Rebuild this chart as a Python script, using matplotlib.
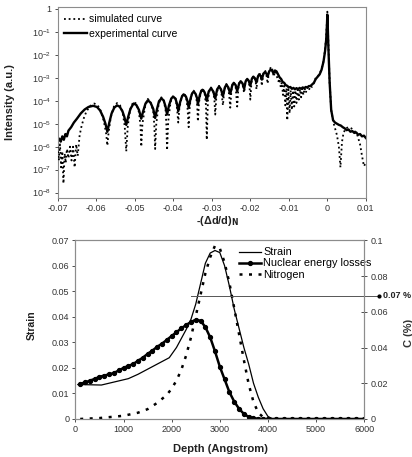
import numpy as np
import matplotlib
matplotlib.use("Agg")
import matplotlib.pyplot as plt

plt.rcParams['font.family'] = ['Liberation Sans', 'DejaVu Sans']

# ---- top panel: rocking curve, x = -(dd/d)_N, y = log10(intensity)
exp_x = [-0.0700, -0.0696, -0.0692, -0.0688, -0.0684, -0.0680, -0.0676, -0.0672, -0.0665, -0.0658,
         -0.0650, -0.0640, -0.0630, -0.0620, -0.0608, -0.0598, -0.0590, -0.0582, -0.0576, -0.0571,
         -0.0566, -0.0560, -0.0553, -0.0546, -0.0539, -0.0532, -0.0527, -0.0522, -0.0517, -0.0511,
         -0.0503, -0.0496, -0.0489, -0.0483, -0.0478, -0.0472, -0.0466, -0.0459, -0.0452, -0.0447,
         -0.0442, -0.0437, -0.0431, -0.0425, -0.0420, -0.0416, -0.0411, -0.0405, -0.0400, -0.0394,
         -0.0390, -0.0387, -0.0382, -0.0377, -0.0373, -0.0367, -0.0363, -0.0360, -0.0355, -0.0351,
         -0.0347, -0.0342, -0.0338, -0.0336, -0.0331, -0.0327, -0.0324, -0.0319, -0.0315, -0.0313,
         -0.0308, -0.0302, -0.0296, -0.0291, -0.0286, -0.0281, -0.0276, -0.0271, -0.0266, -0.0262,
         -0.0257, -0.0252, -0.0247, -0.0243, -0.0238, -0.0234, -0.0229, -0.0225, -0.0220, -0.0216,
         -0.0212, -0.0208, -0.0204, -0.0200, -0.0196, -0.0192, -0.0188, -0.0184, -0.0180, -0.0177,
         -0.0173, -0.0170, -0.0166, -0.0162, -0.0158, -0.0155, -0.0151, -0.0147, -0.0143, -0.0140,
         -0.0136, -0.0132, -0.0128, -0.0124, -0.0120, -0.0116, -0.0112, -0.0108, -0.0104, -0.0100,
         -0.0096, -0.0092, -0.0088, -0.0084, -0.0080, -0.0076, -0.0072, -0.0068, -0.0064, -0.0060,
         -0.0056, -0.0052, -0.0048, -0.0044, -0.0040, -0.0035, -0.0030, -0.0025, -0.0020, -0.0015,
         -0.0010, -0.0006, -0.0003, -0.0001, 0.0000, 0.0001, 0.0003, 0.0006, 0.0010, 0.0015,
         0.0020, 0.0025, 0.0030, 0.0035, 0.0040, 0.0045, 0.0050, 0.0055, 0.0060, 0.0065,
         0.0070, 0.0075, 0.0080, 0.0085, 0.0090, 0.0095, 0.0100]
exp_log = [-5.80, -5.65, -5.78, -5.55, -5.70, -5.45, -5.55, -5.30, -5.15, -4.95,
           -4.78, -4.55, -4.38, -4.27, -4.22, -4.27, -4.42, -4.70, -5.00, -5.35,
           -4.95, -4.55, -4.30, -4.20, -4.26, -4.45, -4.70, -5.05, -4.70, -4.35,
           -4.12, -4.18, -4.40, -4.78, -4.45, -4.12, -3.98, -4.08, -4.35, -4.75,
           -4.35, -4.02, -3.90, -3.98, -4.25, -4.60, -4.20, -3.90, -3.82, -3.92,
           -4.15, -4.45, -4.05, -3.80, -3.72, -3.82, -4.02, -4.30, -3.90, -3.68,
           -3.60, -3.70, -3.90, -4.15, -3.75, -3.56, -3.52, -3.62, -3.80, -4.00,
           -3.60, -3.45, -3.60, -3.90, -3.50, -3.38, -3.50, -3.80, -3.42, -3.30,
           -3.42, -3.70, -3.34, -3.22, -3.32, -3.58, -3.25, -3.15, -3.25, -3.48,
           -3.15, -3.05, -3.13, -3.35, -3.05, -2.95, -3.02, -3.20, -2.94, -2.85,
           -2.92, -3.08, -2.82, -2.75, -2.82, -2.95, -2.72, -2.64, -2.70, -2.80,
           -2.68, -2.72, -2.85, -2.98, -3.05, -3.18, -3.22, -3.32, -3.35, -3.42,
           -3.40, -3.48, -3.44, -3.50, -3.45, -3.50, -3.44, -3.48, -3.42, -3.45,
           -3.40, -3.42, -3.36, -3.36, -3.30, -3.22, -3.05, -2.95, -2.85, -2.65,
           -2.30, -1.85, -1.35, -0.70, -0.25, -0.70, -1.80, -3.20, -4.40, -4.85,
           -4.95, -5.00, -5.05, -5.08, -5.15, -5.20, -5.28, -5.25, -5.35, -5.32,
           -5.40, -5.38, -5.48, -5.45, -5.55, -5.52, -5.62]

sim_x = [-0.0700, -0.0697, -0.0694, -0.0691, -0.0688, -0.0685, -0.0682, -0.0679, -0.0676, -0.0672,
         -0.0668, -0.0664, -0.0660, -0.0656, -0.0652, -0.0648, -0.0643, -0.0638, -0.0632, -0.0625,
         -0.0615, -0.0605, -0.0596, -0.0588, -0.0580, -0.0574, -0.0571, -0.0568, -0.0562, -0.0554,
         -0.0546, -0.0538, -0.0531, -0.0526, -0.0522, -0.0518, -0.0512, -0.0504, -0.0496, -0.0489,
         -0.0485, -0.0483, -0.0480, -0.0473, -0.0466, -0.0459, -0.0452, -0.0449, -0.0447, -0.0444,
         -0.0438, -0.0431, -0.0425, -0.0420, -0.0418, -0.0416, -0.0413, -0.0407, -0.0400, -0.0394,
         -0.0390, -0.0387, -0.0384, -0.0378, -0.0373, -0.0367, -0.0363, -0.0360, -0.0357, -0.0352,
         -0.0347, -0.0342, -0.0338, -0.0336, -0.0333, -0.0328, -0.0324, -0.0319, -0.0315, -0.0313,
         -0.0310, -0.0306, -0.0302, -0.0296, -0.0293, -0.0291, -0.0288, -0.0284, -0.0281, -0.0276,
         -0.0273, -0.0271, -0.0268, -0.0265, -0.0262, -0.0257, -0.0254, -0.0252, -0.0249, -0.0246,
         -0.0243, -0.0238, -0.0236, -0.0234, -0.0231, -0.0228, -0.0225, -0.0220, -0.0218, -0.0216,
         -0.0213, -0.0210, -0.0207, -0.0203, -0.0201, -0.0200, -0.0197, -0.0194, -0.0191, -0.0187,
         -0.0185, -0.0184, -0.0181, -0.0178, -0.0176, -0.0172, -0.0170, -0.0167, -0.0164, -0.0161,
         -0.0158, -0.0155, -0.0152, -0.0149, -0.0146, -0.0143, -0.0141, -0.0139, -0.0136, -0.0133,
         -0.0130, -0.0127, -0.0124, -0.0121, -0.0118, -0.0115, -0.0112, -0.0109, -0.0106, -0.0104,
         -0.0101, -0.0098, -0.0095, -0.0092, -0.0089, -0.0086, -0.0083, -0.0080, -0.0077, -0.0074,
         -0.0071, -0.0068, -0.0065, -0.0062, -0.0059, -0.0056, -0.0052, -0.0048, -0.0044, -0.0040,
         -0.0035, -0.0030, -0.0025, -0.0020, -0.0015, -0.0010, -0.0006, -0.0003, -0.0001, 0.0000,
         0.0001, 0.0003, 0.0006, 0.0010, 0.0015, 0.0020, 0.0025, 0.0030, 0.0034, 0.0038,
         0.0042, 0.0048, 0.0055, 0.0062, 0.0070, 0.0078, 0.0085, 0.0090, 0.0095, 0.0100]
sim_log = [-6.00, -6.60, -5.90, -6.90, -6.20, -7.60, -6.30, -6.70, -6.10, -6.50,
           -6.00, -6.60, -6.00, -6.90, -5.90, -6.40, -5.50, -5.10, -4.75, -4.45,
           -4.22, -4.12, -4.20, -4.45, -4.90, -5.45, -5.95, -5.40, -4.70, -4.25,
           -4.10, -4.20, -4.55, -5.10, -6.20, -5.10, -4.40, -4.05, -4.12, -4.50,
           -5.10, -6.00, -5.00, -4.25, -3.92, -4.05, -4.45, -5.10, -6.10, -5.00,
           -4.15, -3.85, -3.95, -4.40, -5.00, -6.15, -4.90, -4.05, -3.78, -3.90,
           -4.35, -4.95, -4.30, -3.85, -3.68, -3.80, -4.30, -5.15, -4.20, -3.72,
           -3.56, -3.68, -4.15, -4.90, -4.05, -3.60, -3.48, -3.60, -4.20, -5.70,
           -4.00, -3.55, -3.42, -3.60, -4.00, -4.60, -3.80, -3.45, -3.35, -3.55,
           -3.90, -4.20, -3.60, -3.35, -3.27, -3.45, -3.90, -4.30, -3.55, -3.25,
           -3.18, -3.40, -3.85, -4.25, -3.45, -3.18, -3.12, -3.30, -3.50, -3.65,
           -3.25, -3.08, -3.02, -3.25, -3.60, -3.95, -3.20, -2.98, -2.92, -3.10,
           -3.30, -3.50, -3.00, -2.85, -2.80, -3.00, -3.35, -2.90, -2.74, -2.70,
           -2.88, -3.25, -2.78, -2.62, -2.52, -2.62, -2.80, -2.95, -2.72, -2.78,
           -3.00, -3.15, -3.05, -3.40, -3.20, -3.75, -3.35, -4.20, -3.45, -4.85,
           -3.50, -4.55, -3.55, -4.40, -3.55, -4.25, -3.55, -4.10, -3.52, -3.95,
           -3.50, -3.85, -3.47, -3.75, -3.45, -3.65, -3.42, -3.55, -3.35, -3.40,
           -3.22, -3.00, -2.95, -2.82, -2.62, -2.28, -1.80, -1.20, -0.55, -0.12,
           -0.60, -1.70, -3.20, -4.40, -4.90, -5.20, -5.50, -6.00, -6.90, -5.80,
           -5.40, -5.20, -5.15, -5.20, -5.30, -5.50, -5.90, -6.40, -6.85, -6.70]

top_xticks = [-0.07, -0.06, -0.05, -0.04, -0.03, -0.02, -0.01, 0.0, 0.01]
top_xlabels = ['-0.07', '-0.06', '-0.05', '-0.04', '-0.03', '-0.02', '-0.01', '0', '0.01']
top_ydecades = [0, -1, -2, -3, -4, -5, -6, -7, -8]

# ---- bottom panel: depth profiles
strain_depth = [50, 540, 1100, 1300, 1600, 1950, 2100, 2200, 2300, 2400, 2500, 2600, 2700, 2800,
                2900, 3000, 3100, 3200, 3300, 3400, 3500, 3600, 3700, 3800, 3900, 4000, 4100, 6000]
strain = [0.0135, 0.0133, 0.0158, 0.0175, 0.0205, 0.0240, 0.0280, 0.0315, 0.0350, 0.0390, 0.0450,
          0.0530, 0.0610, 0.0650, 0.0660, 0.0652, 0.0600, 0.0520, 0.0430, 0.0355, 0.0280, 0.0215,
          0.0140, 0.0085, 0.0040, 0.0010, 0.0, 0.0]

nel_depth = list(range(100, 4000, 100)) + [4000, 4167, 4333, 4500, 4667, 4833, 5000,
                                           5167, 5333, 5500, 5667, 5833, 6000]
nel = [0.0138, 0.0143, 0.0150, 0.0157, 0.0165, 0.0170, 0.0175, 0.0180, 0.0190, 0.0200,
       0.0208, 0.0215, 0.0228, 0.0240, 0.0255, 0.0268, 0.0283, 0.0295, 0.0310, 0.0325,
       0.0340, 0.0355, 0.0368, 0.0380, 0.0388, 0.0385, 0.0360, 0.0320, 0.0265, 0.0205,
       0.0155, 0.0105, 0.0068, 0.0040, 0.0020, 0.0008, 0.0003, 0.0001, 0.0,
       0.0, 0.0, 0.0, 0.0, 0.0, 0.0, 0.0, 0.0, 0.0, 0.0, 0.0, 0.0, 0.0]

n_depth = [100, 500, 1000, 1300, 1500, 1700, 1900, 2000, 2100, 2200, 2300, 2400, 2500, 2600, 2700,
           2800, 2900, 3000, 3100, 3200, 3300, 3400, 3500, 3600, 3700, 3800, 3900, 4000, 4100]
nitrogen = [0.0, 0.0005, 0.0018, 0.0035, 0.0055, 0.0090, 0.0135, 0.0170, 0.0215, 0.0275, 0.0355,
            0.0455, 0.0575, 0.0695, 0.0815, 0.0905, 0.0970, 0.0955, 0.0875, 0.0760, 0.0620, 0.0475,
            0.0330, 0.0195, 0.0095, 0.0035, 0.0010, 0.0002, 0.0]
n_level = 0.069   # marked C level, labelled 0.07 %

gray = '#8c8c8c'
tcol = '#333333'

fig = plt.figure(figsize=(4.12, 4.57), dpi=100)

# ---------------- top
ax1 = fig.add_axes([0.140, 0.567, 0.748, 0.418])
ax1.set_yscale('log')
ax1.plot(exp_x, 10 ** np.array(exp_log), color='black', lw=1.7, label='experimental curve', zorder=2)
ax1.plot(sim_x, 10 ** np.array(sim_log), color='black', lw=1.3, ls=(0, (1, 1.6)),
         label='simulated curve', zorder=3)
ax1.set_xlim(-0.07, 0.01)
ax1.set_ylim(10 ** -8.23, 10 ** 0.09)
ax1.set_xticks(top_xticks)
ax1.set_xticklabels(top_xlabels)
ax1.set_yticks([10.0 ** d for d in top_ydecades])
ax1.set_yticklabels(['1'] + ['$\\mathregular{10^{%d}}$' % d for d in top_ydecades[1:]])
ax1.minorticks_off()
ax1.tick_params(labelsize=6.5, colors=tcol, length=2.5, width=0.6, pad=2)
for s in ax1.spines.values():
    s.set_color(gray)
    s.set_linewidth(0.8)
h, l = ax1.get_legend_handles_labels()
ax1.legend(h[::-1], l[::-1], loc='upper left', bbox_to_anchor=(59 / 412, 1 - 9 / 457),
           bbox_transform=fig.transFigure, frameon=False, fontsize=7.5, borderpad=0,
           handlelength=2.2, handletextpad=0.2, labelspacing=0.45)
fig.text(10 / 412, 1 - 102 / 457, 'Intensity (a.u.)', rotation=90, ha='center', va='center',
         fontsize=8, fontweight='bold', color='#222222')
fig.text(217 / 412, 1 - 221 / 457, '-(\u0394d/d)$_\\mathbf{N}$', ha='center', va='center',
         fontsize=7.8, fontweight='bold', color='#222222')

# ---------------- bottom
ax2 = fig.add_axes([0.183, 0.0832, 0.701, 0.391])
ax3 = ax2.twinx()
l1, = ax2.plot(strain_depth, strain, color='black', lw=0.9, label='Strain', zorder=3)
l2, = ax2.plot(nel_depth, nel, color='black', lw=1.8, marker='o', ms=2.8, label='Nuclear energy losses',
               zorder=4)
l3, = ax3.plot(n_depth, nitrogen, color='black', lw=1.8, ls=(0, (1.2, 2.6)), label='Nitrogen')
ax3.plot([2400, 6300], [n_level, n_level], color='#555555', lw=0.7, clip_on=False)
ax3.plot([6300], [n_level], marker='o', ms=2, color='black', clip_on=False)
ax3.text(6390, n_level, '0.07 %', fontsize=6.5, fontweight='bold', va='center', ha='left',
         color='#222222', clip_on=False)

ax2.set_xlim(0, 6000)
ax2.set_ylim(0, 0.07)
ax3.set_ylim(0, 0.1)
ax2.set_xticks([0, 1000, 2000, 3000, 4000, 5000, 6000])
ax2.set_yticks([0, 0.01, 0.02, 0.03, 0.04, 0.05, 0.06, 0.07])
ax2.set_yticklabels(['0', '0.01', '0.02', '0.03', '0.04', '0.05', '0.06', '0.07'])
ax3.set_yticks([0, 0.02, 0.04, 0.06, 0.08, 0.1])
ax3.set_yticklabels(['0', '0.02', '0.04', '0.06', '0.08', '0.1'])
ax2.tick_params(labelsize=6.5, colors=tcol, length=2.5, width=0.6, pad=2)
ax3.tick_params(labelsize=6.5, colors=tcol, length=5, width=0.6, pad=2, direction='inout')
for a in (ax2, ax3):
    for s in a.spines.values():
        s.set_color(gray)
        s.set_linewidth(0.8)
ax2.legend([l1, l2, l3], ['Strain', 'Nuclear energy losses', 'Nitrogen'], loc='upper left',
           bbox_to_anchor=(234 / 412, 1 - 242 / 457), bbox_transform=fig.transFigure,
           frameon=False, fontsize=7.8, borderpad=0, handlelength=2.0, handletextpad=0.2,
           labelspacing=0.1)
fig.text(32 / 412, 1 - 325 / 457, 'Strain', rotation=90, ha='center', va='center',
         fontsize=7.5, fontweight='bold', color='#222222')
fig.text(220 / 412, 1 - 449 / 457, 'Depth (Angstrom)', ha='center', va='center',
         fontsize=8, fontweight='bold', color='#222222')
fig.text(404 / 412, 1 - 333 / 457, 'C (%)', rotation=90, ha='left', va='center',
         fontsize=8, fontweight='bold', color='#333333')

fig.savefig('out.png', dpi=100)
